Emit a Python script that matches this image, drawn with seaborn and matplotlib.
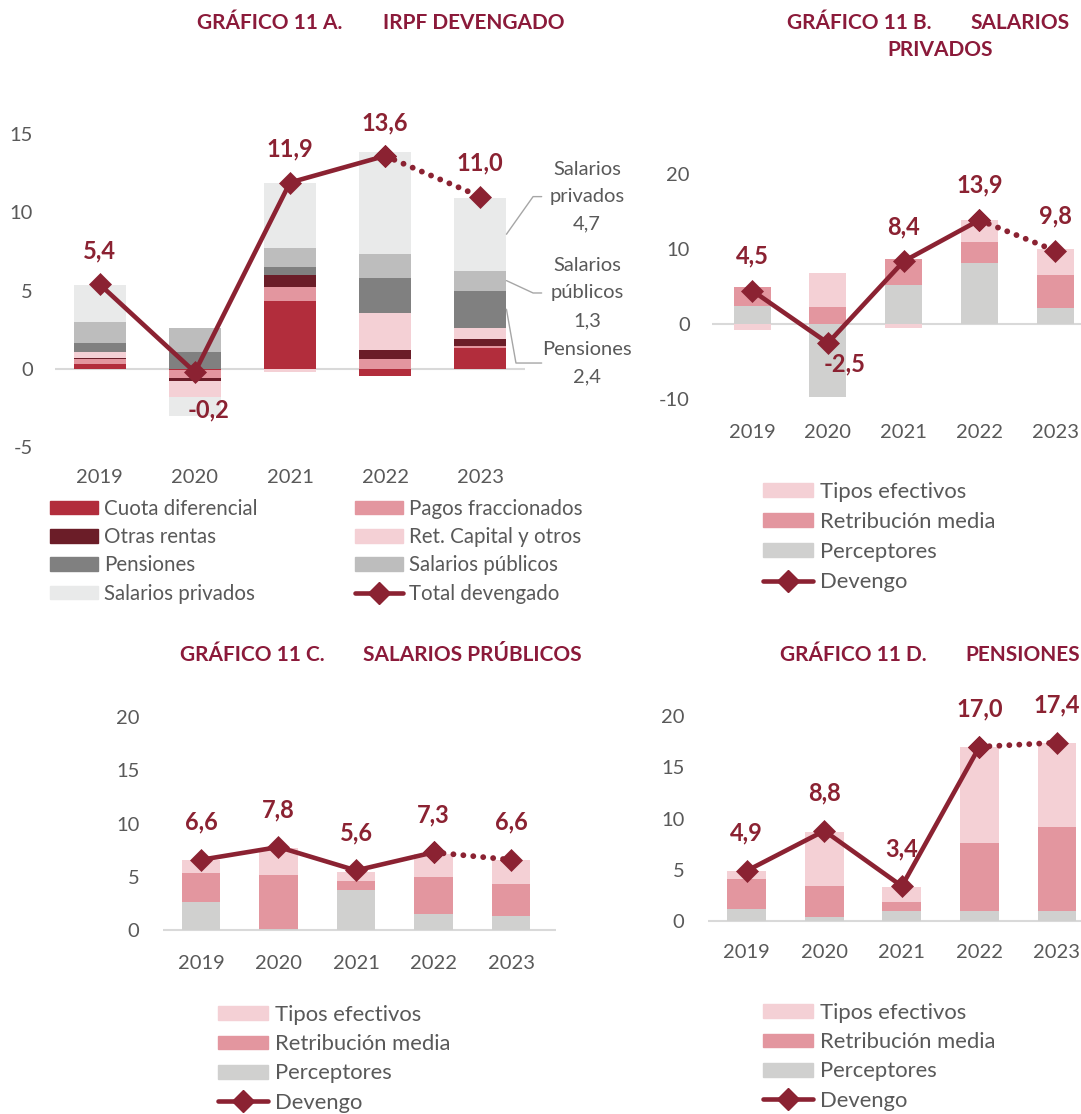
import numpy as np
import matplotlib
matplotlib.use("Agg")
import matplotlib.pyplot as plt
from matplotlib.patches import Patch
from matplotlib.lines import Line2D
import seaborn as sns

sns.set_theme(style="white")
plt.rcParams['font.family'] = ['Lato', 'DejaVu Sans']
plt.rcParams['axes.unicode_minus'] = False

# ---------------- data ----------------
years = ["2019", "2020", "2021", "2022", "2023"]

# Gráfico 11 A - IRPF devengado (contribuciones)
cuota_diferencial = [0.34, -0.08, 4.36, -0.43, 1.32]
pagos_fraccionados = [0.28, -0.49, 0.87, 0.62, 0.13]
otras_rentas = [0.10, -0.21, 0.79, 0.62, 0.47]
ret_capital = [0.38, -1.02, -0.20, 2.36, 0.70]
pensiones_a = [0.57, 1.06, 0.51, 2.23, 2.38]
salarios_publicos_a = [1.30, 1.57, 1.17, 1.53, 1.28]
salarios_privados_a = [2.38, -1.21, 4.17, 6.51, 4.64]
total_devengado = [5.4, -0.2, 11.9, 13.6, 11.0]
anot_labels = ["Salarios\nprivados\n4,7", "Salarios\npúblicos\n1,3", "Pensiones\n2,4"]

# Gráfico 11 B - Salarios privados
perceptores_b = [2.44, -9.64, 5.24, 8.18, 2.13]
retribucion_b = [2.58, 2.36, 3.47, 2.84, 4.44]
tipos_b = [-0.75, 4.49, -0.44, 2.89, 3.42]
devengo_b = [4.5, -2.5, 8.4, 13.9, 9.8]

# Gráfico 11 C - Salarios públicos
perceptores_c = [2.66, 0.06, 3.76, 1.50, 1.32]
retribucion_c = [2.73, 5.14, 0.88, 3.51, 2.98]
tipos_c = [1.19, 2.51, 0.78, 2.10, 2.29]
devengo_c = [6.6, 7.8, 5.6, 7.3, 6.6]

# Gráfico 11 D - Pensiones
perceptores_d = [1.18, 0.39, 0.98, 0.98, 0.98]
retribucion_d = [2.88, 3.07, 0.92, 6.60, 8.17]
tipos_d = [0.78, 5.26, 1.41, 9.35, 8.20]
devengo_d = [4.9, 8.8, 3.4, 17.0, 17.4]

# ---------------- style ----------------
LINE = "#8B2232"
TITLE = "#8B1A3A"
TXT = "#595959"
C_CUOTA = "#B22D3C"
C_PAGOS = "#E3969F"
C_OTRAS = "#6B1D28"
C_RET = "#F4D0D5"
C_PENS = "#808080"
C_PUB = "#BDBDBD"
C_PRIV = "#E9EAEA"
C_PERC = "#D0D0CF"

TICK_FS = 14.5
LAB_FS = 17
MS = 11

W, H = 1081, 1114
fig = plt.figure(figsize=(W / 100, H / 100), dpi=100)


def box(l, t, r, b):
    return [l / W, 1 - b / H, (r - l) / W, (b - t) / H]


def stacked(ax, layers, colors, width):
    x = np.arange(len(years))
    pos = np.zeros(len(years))
    neg = np.zeros(len(years))
    for vals, c in zip(layers, colors):
        v = np.asarray(vals, dtype=float)
        bottom = np.where(v >= 0, pos, neg)
        ax.bar(x, v, width, bottom=bottom, color=c, linewidth=0, zorder=2)
        pos += np.where(v >= 0, v, 0)
        neg += np.where(v < 0, v, 0)


def devengo_line(ax, vals, up_pt, neg_off):
    x = np.arange(len(years))
    v = np.asarray(vals)
    sns.lineplot(x=x[:4], y=v[:4], ax=ax, color=LINE, linewidth=3.3, marker="D",
                 markersize=MS, markeredgecolor=LINE, markeredgewidth=0.5, zorder=6)
    sns.lineplot(x=x[3:], y=v[3:], ax=ax, color=LINE, linewidth=4.2,
                 linestyle=(0, (0.01, 1.7)), dash_capstyle="round", marker="D",
                 markersize=MS, markeredgecolor=LINE, markeredgewidth=0.5, zorder=6)
    for xi, yi in zip(x, v):
        lab = f"{yi:.1f}".replace(".", ",")
        off = (0, up_pt) if yi >= 0 else neg_off
        ax.annotate(lab, (xi, yi), xytext=off, textcoords="offset points",
                    ha="center", va="center", fontsize=LAB_FS, fontweight="bold",
                    color=LINE, zorder=7)


def style_axes(ax, ylim, yticks, xlim, ypad, xpad):
    ax.set_xlim(*xlim)
    ax.set_ylim(*ylim)
    ax.set_xticks(np.arange(len(years)), years)
    ax.set_yticks(yticks)
    ax.tick_params(axis="both", length=0, labelsize=TICK_FS, labelcolor=TXT)
    ax.tick_params(axis="y", pad=ypad)
    ax.tick_params(axis="x", pad=xpad)
    for s in ax.spines.values():
        s.set_visible(False)
    ax.axhline(0, color="#D9D9D9", lw=1.5, zorder=1)
    ax.set_xlabel("")
    ax.set_ylabel("")


def legend_bcd(x_px, y_px, spacing=0.46):
    handles = [Patch(color=C_RET, label="Tipos efectivos"),
               Patch(color=C_PAGOS, label="Retribución media"),
               Patch(color=C_PERC, label="Perceptores"),
               Line2D([], [], color=LINE, lw=3.3, marker="D", markersize=MS, label="Devengo")]
    fig.legend(handles=handles, loc="upper left", bbox_to_anchor=(x_px / W, 1 - y_px / H),
               frameon=False, fontsize=15.8, labelcolor=TXT, handlelength=2.3,
               handleheight=0.6, handletextpad=0.28, labelspacing=spacing, borderpad=0,
               borderaxespad=0)


# ---------------- Chart A ----------------
axA = fig.add_axes(box(55, 102.6, 525, 463))
layersA = [cuota_diferencial, pagos_fraccionados, otras_rentas, ret_capital,
           pensiones_a, salarios_publicos_a, salarios_privados_a]
colorsA = [C_CUOTA, C_PAGOS, C_OTRAS, C_RET, C_PENS, C_PUB, C_PRIV]
bwA = 0.55
stacked(axA, layersA, colorsA, bwA)
devengo_line(axA, total_devengado, 24, (10, -27))
style_axes(axA, (-6, 17), [-5, 0, 5, 10, 15], (-0.47, 4.47), 16, 4)

# leader annotations for 2023
pos_cum = np.cumsum([max(v[4], 0) for v in layersA])
seg_mid = {
    "priv": (pos_cum[5] + pos_cum[6]) / 2,
    "pub": (pos_cum[4] + pos_cum[5]) / 2,
    "pens": (pos_cum[3] + pos_cum[4]) / 2,
}
edge = 4 + bwA / 2
lead = [(seg_mid["priv"], 11.0, 0.28), (seg_mid["pub"], 4.85, 0.28), (seg_mid["pens"], 0.38, 0.10)]
for (y0, ylab, dx), txt in zip(lead, anot_labels):
    axA.plot([edge, edge + dx, edge + 0.37], [y0, ylab, ylab], color="#A6A6A6", lw=1,
             clip_on=False, zorder=3)
    axA.text(5.12, ylab, txt, ha="center", va="center", fontsize=14.5, color=TXT,
             linespacing=1.75, clip_on=False)

# legend A (two columns)
hA = {
    "Cuota diferencial": Patch(color=C_CUOTA, label="Cuota diferencial"),
    "Pagos fraccionados": Patch(color=C_PAGOS, label="Pagos fraccionados"),
    "Otras rentas": Patch(color=C_OTRAS, label="Otras rentas"),
    "Ret. Capital y otros": Patch(color=C_RET, label="Ret. Capital y otros"),
    "Pensiones": Patch(color=C_PENS, label="Pensiones"),
    "Salarios públicos": Patch(color=C_PUB, label="Salarios públicos"),
    "Salarios privados": Patch(color=C_PRIV, label="Salarios privados"),
    "Total devengado": Line2D([], [], color=LINE, lw=3.3, marker="D", markersize=MS,
                              label="Total devengado"),
}
col1 = ["Cuota diferencial", "Otras rentas", "Pensiones", "Salarios privados"]
col2 = ["Pagos fraccionados", "Ret. Capital y otros", "Salarios públicos", "Total devengado"]
for names, xp in ((col1, 50), (col2, 355)):
    fig.legend(handles=[hA[n] for n in names], loc="upper left",
               bbox_to_anchor=(xp / W, 1 - 499 / H), frameon=False, fontsize=14.8,
               labelcolor=TXT, handlelength=2.33, handleheight=0.63, handletextpad=0.28,
               labelspacing=0.40, borderpad=0, borderaxespad=0)

# ---------------- Chart B ----------------
axB = fig.add_axes(box(712, 136.8, 1081, 421.8))
bwB = 0.49
stacked(axB, [perceptores_b, retribucion_b, tipos_b], [C_PERC, C_PAGOS, C_RET], bwB)
devengo_line(axB, devengo_b, 25, (12, -15))
style_axes(axB, (-13, 25), [-10, 0, 10, 20], (-0.53, 4.34), 16, 1.5)
legend_bcd(763, 482)

# ---------------- Chart C ----------------
axC = fig.add_axes(box(163, 696, 556, 953.4))
bwC = 0.5
stacked(axC, [perceptores_c, retribucion_c, tipos_c], [C_PERC, C_PAGOS, C_RET], bwC)
devengo_line(axC, devengo_c, 27, (10, -20))
style_axes(axC, (-2.2, 22), [0, 5, 10, 15, 20], (-0.49, 4.58), 17, 1.5)
legend_bcd(218, 1005, spacing=0.42)

# ---------------- Chart D ----------------
axD = fig.add_axes(box(708, 695.5, 1081, 941.5))
bwD = 0.5
stacked(axD, [perceptores_d, retribucion_d, tipos_d], [C_PERC, C_PAGOS, C_RET], bwD)
devengo_line(axD, devengo_d, 27, (10, -20))
style_axes(axD, (-2, 22), [0, 5, 10, 15, 20], (-0.5, 4.31), 17, 1.5)
legend_bcd(763, 1003, spacing=0.42)

# ---------------- Titles ----------------
tkw = dict(fontsize=15, fontweight="bold", color=TITLE, va="center", ha="left")
fig.text(197 / W, 1 - 23 / H, "GRÁFICO 11 A.", **tkw)
fig.text(383 / W, 1 - 23 / H, "IRPF DEVENGADO", **tkw)
fig.text(787 / W, 1 - 23 / H, "GRÁFICO 11 B.", **tkw)
fig.text(970 / W, 1 - 23 / H, "SALARIOS", **tkw)
fig.text(940 / W, 1 - 50 / H, "PRIVADOS", **{**tkw, "ha": "center"})
fig.text(180 / W, 1 - 655 / H, "GRÁFICO 11 C.", **tkw)
fig.text(363 / W, 1 - 655 / H, "SALARIOS PRÚBLICOS", **tkw)
fig.text(780 / W, 1 - 655 / H, "GRÁFICO 11 D.", **tkw)
fig.text(965 / W, 1 - 655 / H, "PENSIONES", **tkw)

fig.savefig("out.png", dpi=100)
